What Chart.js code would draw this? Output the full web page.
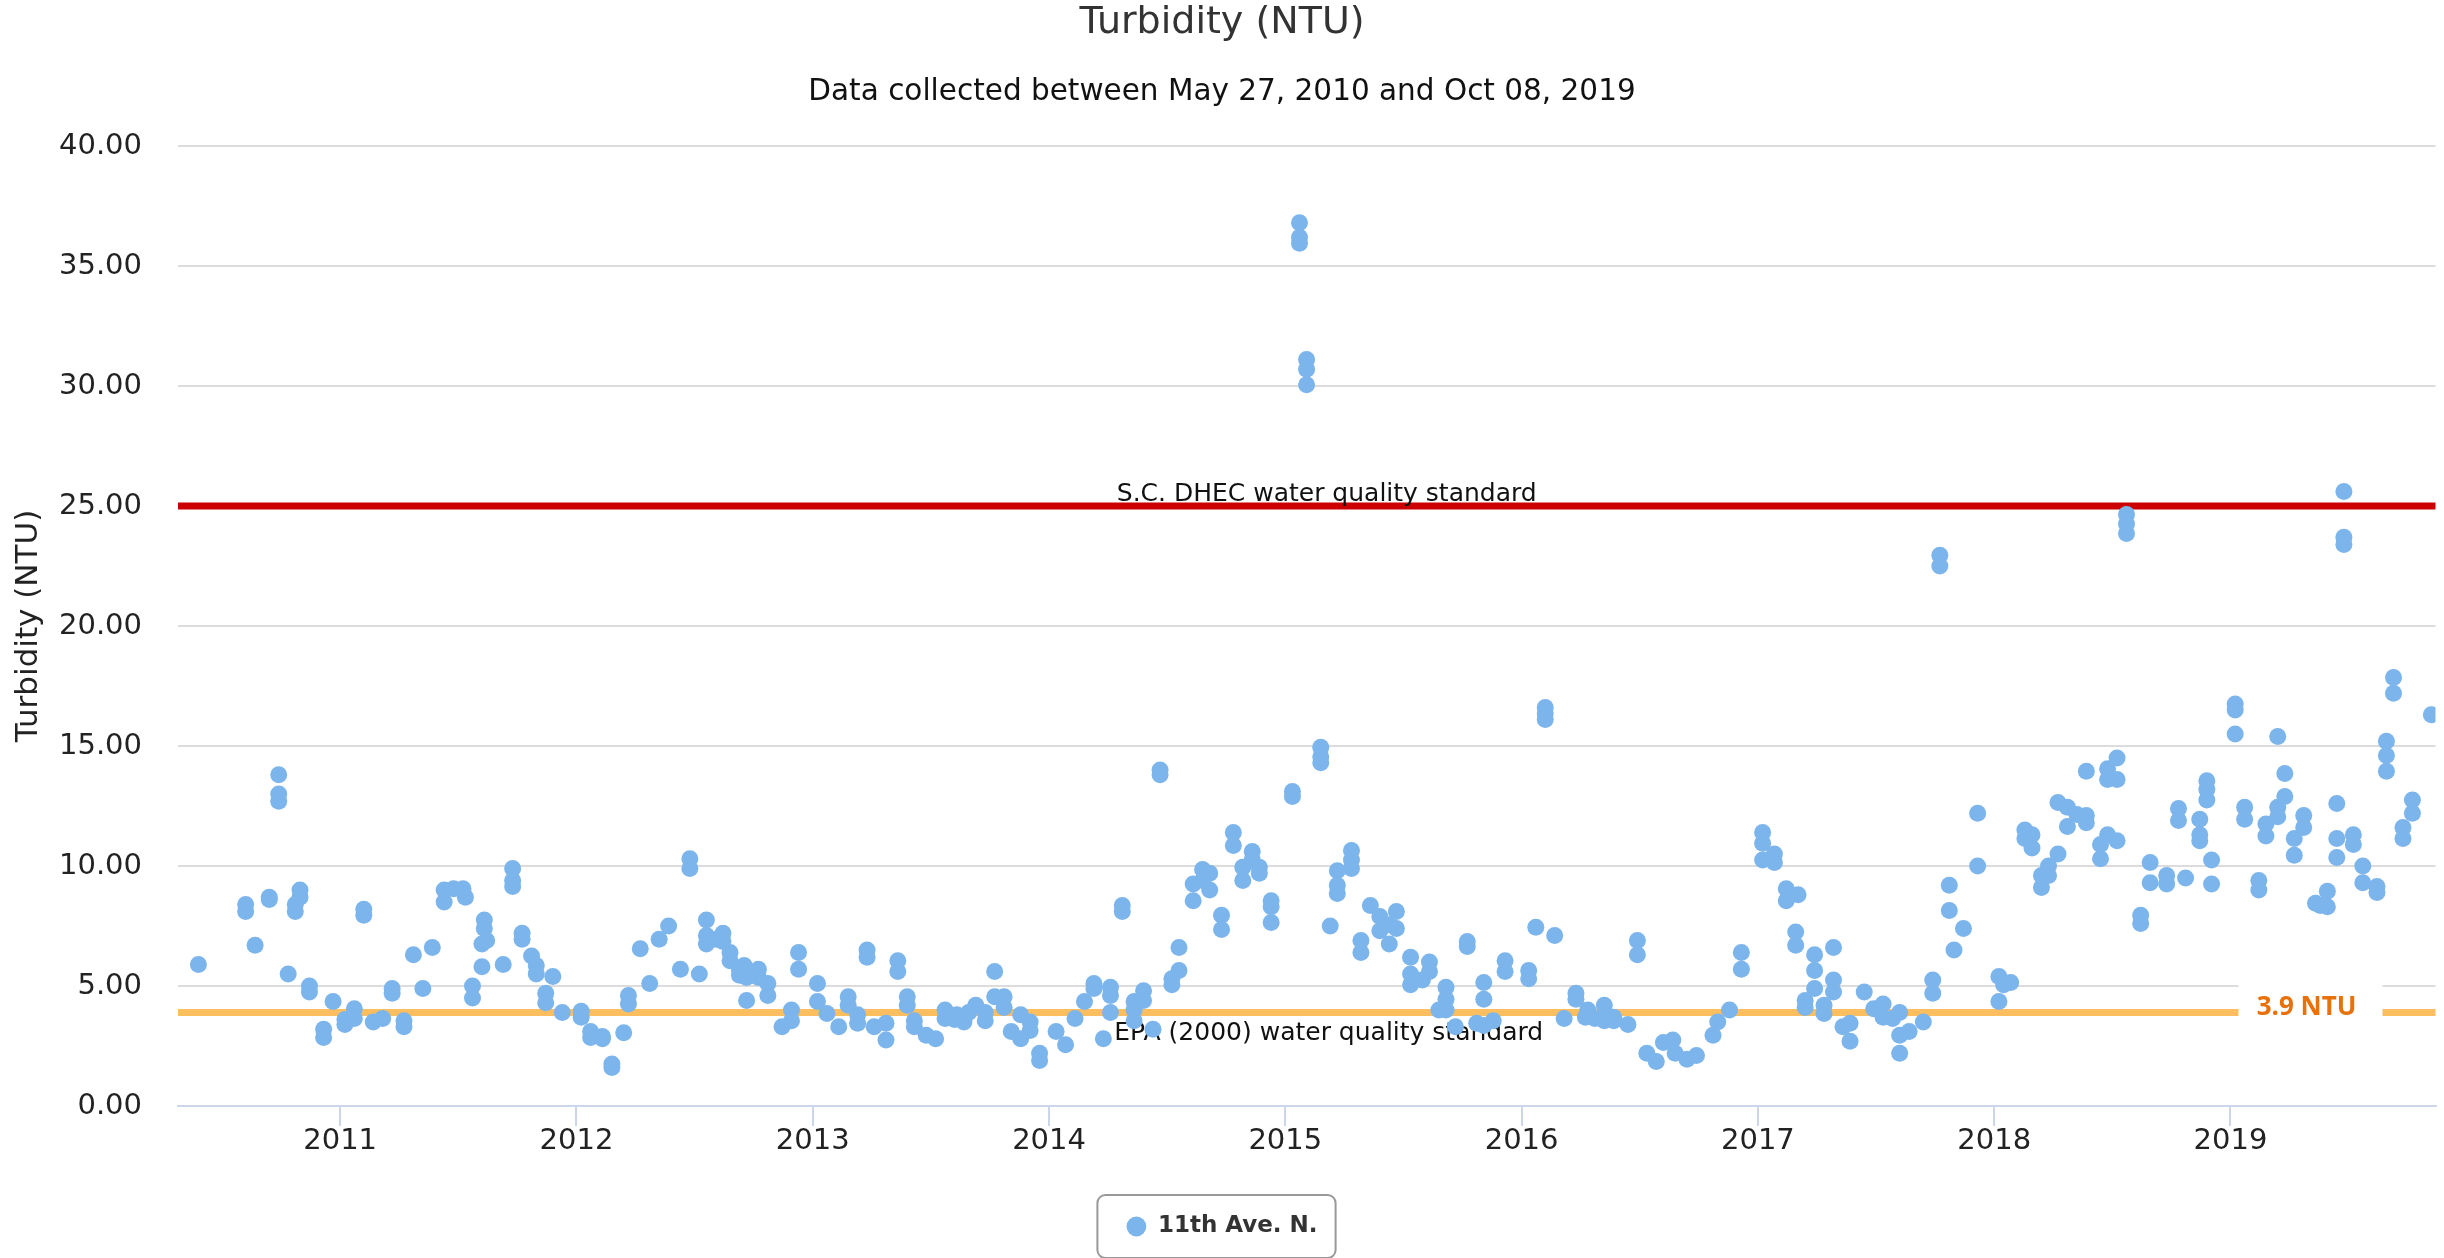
<!DOCTYPE html>
<html>
<head>
<meta charset="utf-8">
<title>Turbidity (NTU)</title>
<script src="https://cdn.jsdelivr.net/npm/chart.js@4.4.1/dist/chart.umd.min.js"></script>
<style>
  html, body { margin: 0; padding: 0; background: #fff; }
  #wrap { width: 2444px; height: 1258px; }
</style>
</head>
<body>
<div id="wrap"><canvas id="turbidityChart"></canvas></div>
<script>
const chartTitle = 'Turbidity (NTU)';
const subtitleText = 'Data collected between May 27, 2010 and Oct 08, 2019';
const seriesName = '11th Ave. N.';
const yearTicks = [2011, 2012, 2013, 2014, 2015, 2016, 2017, 2018, 2019];

// standards drawn as horizontal lines
const dhecLimit = 25;
const epaLimit = 3.9;
const dhecLabel = 'S.C. DHEC water quality standard';
const epaLabel = 'EPA (2000) water quality standard';
const epaValueLabel = '3.9 NTU';

// sample dates as decimal years
const sampleYear = [
  // 2010
  2010.40, 2010.60, 2010.60, 2010.64, 2010.70, 2010.70, 2010.74, 2010.74, 2010.74, 2010.78,
  2010.81, 2010.81, 2010.83, 2010.83, 2010.87, 2010.87, 2010.93, 2010.93, 2010.97,
  // 2011
  2011.02, 2011.02, 2011.06, 2011.06, 2011.10, 2011.10, 2011.14, 2011.18, 2011.22, 2011.22,
  2011.27, 2011.27, 2011.31, 2011.35, 2011.39, 2011.44, 2011.44, 2011.48, 2011.52, 2011.53,
  2011.56, 2011.56, 2011.60, 2011.60, 2011.61, 2011.61, 2011.62, 2011.69, 2011.73, 2011.73,
  2011.73, 2011.77, 2011.77, 2011.81, 2011.83, 2011.83, 2011.87, 2011.87, 2011.90, 2011.94,
  // 2012
  2012.02, 2012.02, 2012.06, 2012.06, 2012.11, 2012.11, 2012.15, 2012.15, 2012.20, 2012.22,
  2012.22, 2012.27, 2012.31, 2012.35, 2012.39, 2012.44, 2012.48, 2012.48, 2012.52, 2012.55,
  2012.55, 2012.55, 2012.59, 2012.62, 2012.62, 2012.65, 2012.65, 2012.69, 2012.69, 2012.71,
  2012.72, 2012.72, 2012.77, 2012.77, 2012.81, 2012.81, 2012.87, 2012.91, 2012.91, 2012.94,
  2012.94,
  // 2013
  2013.02, 2013.02, 2013.06, 2013.11, 2013.15, 2013.15, 2013.19, 2013.19, 2013.23, 2013.23,
  2013.26, 2013.31, 2013.31, 2013.36, 2013.36, 2013.40, 2013.40, 2013.43, 2013.43, 2013.48,
  2013.52, 2013.56, 2013.56, 2013.60, 2013.61, 2013.64, 2013.66, 2013.69, 2013.73, 2013.73,
  2013.77, 2013.77, 2013.81, 2013.81, 2013.84, 2013.88, 2013.88, 2013.92, 2013.92, 2013.96,
  2013.96,
  // 2014
  2014.03, 2014.07, 2014.11, 2014.15, 2014.19, 2014.19, 2014.23, 2014.26, 2014.26, 2014.26,
  2014.31, 2014.31, 2014.36, 2014.36, 2014.36, 2014.40, 2014.40, 2014.44, 2014.47, 2014.47,
  2014.52, 2014.52, 2014.55, 2014.55, 2014.61, 2014.61, 2014.65, 2014.65, 2014.68, 2014.68,
  2014.73, 2014.73, 2014.78, 2014.78, 2014.82, 2014.82, 2014.86, 2014.86, 2014.89, 2014.89,
  2014.94, 2014.94, 2014.94,
  // 2015
  2015.03, 2015.03, 2015.06, 2015.06, 2015.06, 2015.09, 2015.09, 2015.09, 2015.15, 2015.15,
  2015.15, 2015.19, 2015.22, 2015.22, 2015.22, 2015.28, 2015.28, 2015.28, 2015.32, 2015.32,
  2015.36, 2015.40, 2015.40, 2015.44, 2015.44, 2015.47, 2015.47, 2015.53, 2015.53, 2015.53,
  2015.58, 2015.61, 2015.61, 2015.65, 2015.68, 2015.68, 2015.68, 2015.72, 2015.77, 2015.77,
  2015.81, 2015.84, 2015.84, 2015.84, 2015.88, 2015.93, 2015.93,
  // 2016
  2016.03, 2016.03, 2016.06, 2016.10, 2016.10, 2016.10, 2016.14, 2016.18, 2016.23, 2016.23,
  2016.27, 2016.28, 2016.31, 2016.35, 2016.35, 2016.39, 2016.39, 2016.45, 2016.49, 2016.49,
  2016.53, 2016.57, 2016.60, 2016.64, 2016.65, 2016.70, 2016.74, 2016.81, 2016.83, 2016.88,
  2016.93, 2016.93,
  // 2017
  2017.02, 2017.02, 2017.02, 2017.07, 2017.07, 2017.12, 2017.12, 2017.17, 2017.16, 2017.16,
  2017.20, 2017.20, 2017.24, 2017.24, 2017.24, 2017.28, 2017.28, 2017.32, 2017.32, 2017.32,
  2017.36, 2017.39, 2017.39, 2017.45, 2017.49, 2017.53, 2017.53, 2017.57, 2017.60, 2017.60,
  2017.60, 2017.64, 2017.70, 2017.74, 2017.74, 2017.77, 2017.77, 2017.81, 2017.81, 2017.83,
  2017.87, 2017.93, 2017.93,
  // 2018
  2018.02, 2018.02, 2018.04, 2018.07, 2018.13, 2018.13, 2018.16, 2018.16, 2018.20, 2018.20,
  2018.23, 2018.23, 2018.27, 2018.27, 2018.31, 2018.31, 2018.35, 2018.39, 2018.39, 2018.39,
  2018.45, 2018.45, 2018.48, 2018.48, 2018.48, 2018.52, 2018.52, 2018.52, 2018.56, 2018.56,
  2018.56, 2018.62, 2018.62, 2018.66, 2018.66, 2018.73, 2018.73, 2018.78, 2018.78, 2018.81,
  2018.87, 2018.87, 2018.87, 2018.90, 2018.90, 2018.90, 2018.92, 2018.92,
  // 2019
  2019.02, 2019.02, 2019.02, 2019.06, 2019.06, 2019.12, 2019.12, 2019.15, 2019.15, 2019.20,
  2019.20, 2019.20, 2019.23, 2019.23, 2019.27, 2019.27, 2019.31, 2019.31, 2019.36, 2019.38,
  2019.41, 2019.41, 2019.45, 2019.45, 2019.45, 2019.48, 2019.48, 2019.48, 2019.52, 2019.52,
  2019.56, 2019.56, 2019.62, 2019.62, 2019.66, 2019.66, 2019.66, 2019.69, 2019.69, 2019.73,
  2019.73, 2019.77, 2019.77, 2019.85
];

// turbidity in NTU, same order as sampleYear
const turbidityNtu = [
  // 2010
  5.9, 8.4, 8.1, 6.7, 8.7, 8.6, 13.8, 13.0, 12.7, 5.5,
  8.4, 8.1, 9.0, 8.7, 5.0, 4.75, 3.2, 2.85, 4.35,
  // 2011
  3.6, 3.4, 4.05, 3.65, 8.2, 7.95, 3.5, 3.65, 4.9, 4.7,
  3.55, 3.3, 6.3, 4.9, 6.6, 9.0, 8.5, 9.05, 9.05, 8.7,
  5.0, 4.5, 6.75, 5.8, 7.75, 7.4, 6.9, 5.9, 9.9, 9.4,
  9.15, 7.2, 6.95, 6.25, 5.85, 5.5, 4.7, 4.3, 5.4, 3.9,
  // 2012
  3.95, 3.7, 3.1, 2.85, 2.9, 2.8, 1.75, 1.6, 3.05, 4.6,
  4.25, 6.55, 5.1, 6.95, 7.5, 5.7, 10.3, 9.9, 5.5, 7.75,
  7.1, 6.75, 6.95, 7.2, 6.85, 6.4, 6.05, 5.65, 5.45, 5.85,
  5.35, 4.4, 5.7, 5.35, 5.1, 4.6, 3.3, 4.0, 3.55, 6.4,
  5.7,
  // 2013
  5.1, 4.35, 3.85, 3.3, 4.55, 4.2, 3.8, 3.45, 6.5, 6.2,
  3.3, 3.45, 2.75, 6.05, 5.6, 4.55, 4.2, 3.55, 3.3, 2.95,
  2.8, 4.0, 3.65, 3.6, 3.8, 3.5, 3.9, 4.2, 3.9, 3.55,
  5.6, 4.55, 4.55, 4.1, 3.1, 3.8, 2.8, 3.5, 3.15, 2.2,
  1.9,
  // 2014
  3.1, 2.55, 3.65, 4.35, 5.1, 4.9, 2.8, 4.95, 4.6, 3.9,
  8.35, 8.1, 4.35, 4.0, 3.55, 4.8, 4.4, 3.2, 14.0, 13.8,
  5.3, 5.05, 6.6, 5.65, 9.25, 8.55, 9.85, 9.4, 9.7, 9.0,
  7.95, 7.35, 11.4, 10.85, 9.95, 9.4, 10.6, 10.25, 9.95, 9.7,
  8.55, 8.3, 7.65,
  // 2015
  13.1, 12.9, 36.8, 36.2, 35.95, 31.1, 30.7, 30.05, 14.95, 14.55,
  14.3, 7.5, 9.8, 9.2, 8.85, 10.65, 10.25, 9.9, 6.9, 6.4,
  8.35, 7.9, 7.3, 7.55, 6.75, 8.1, 7.4, 6.2, 5.5, 5.05,
  5.25, 6.0, 5.6, 4.0, 4.95, 4.45, 4.0, 3.3, 6.85, 6.65,
  3.45, 3.35, 5.15, 4.45, 3.55, 6.05, 5.6,
  // 2016
  5.65, 5.3, 7.45, 16.6, 16.35, 16.1, 7.1, 3.65, 4.7, 4.45,
  3.7, 4.0, 3.65, 4.2, 3.55, 3.7, 3.55, 3.4, 6.9, 6.3,
  2.2, 1.85, 2.65, 2.75, 2.2, 1.95, 2.1, 2.95, 3.5, 4.0,
  6.4, 5.7,
  // 2017
  11.4, 10.95, 10.25, 10.5, 10.15, 9.05, 8.55, 8.8, 7.25, 6.7,
  4.4, 4.1, 6.3, 5.65, 4.9, 4.2, 3.85, 6.6, 5.25, 4.75,
  3.3, 3.45, 2.7, 4.75, 4.05, 4.25, 3.7, 3.65, 3.9, 2.95,
  2.2, 3.1, 3.5, 5.25, 4.7, 22.95, 22.5, 9.2, 8.15, 6.5,
  7.4, 12.2, 10.0,
  // 2018
  5.4, 4.35, 5.05, 5.15, 11.5, 11.15, 11.3, 10.75, 9.6, 9.1,
  10.0, 9.6, 10.5, 12.65, 12.45, 11.65, 12.15, 12.1, 11.8, 13.95,
  10.9, 10.3, 11.3, 14.05, 13.6, 11.05, 14.5, 13.6, 24.65, 24.25,
  23.85, 7.95, 7.6, 10.15, 9.3, 9.6, 9.25, 12.4, 11.9, 9.5,
  11.95, 11.3, 11.05, 13.55, 13.2, 12.75, 10.25, 9.25,
  // 2019
  16.75, 16.5, 15.5, 12.45, 11.95, 9.4, 9.0, 11.75, 11.25, 15.4,
  12.45, 12.05, 13.85, 12.9, 11.15, 10.45, 12.1, 11.6, 8.45, 8.35,
  8.95, 8.3, 12.6, 11.15, 10.35, 25.6, 23.7, 23.4, 11.3, 10.9,
  10.0, 9.3, 9.15, 8.9, 15.2, 14.6, 13.95, 17.85, 17.2, 11.6,
  11.15, 12.75, 12.2, 16.3
];

Chart.defaults.font.family = "'DejaVu Sans', sans-serif";

// standard lines + their labels (under the points), value tag on top
const plotLinesPlugin = {
  id: 'plotLines',
  beforeDatasetsDraw(chart) {
    const { ctx, chartArea: { left, right }, scales: { y } } = chart;
    const yRed = y.getPixelForValue(dhecLimit);
    const yOrange = y.getPixelForValue(epaLimit);
    ctx.save();
    ctx.lineWidth = 7;
    ctx.strokeStyle = '#fdbe60';
    ctx.beginPath();
    ctx.moveTo(left, yOrange);
    ctx.lineTo(right, yOrange);
    ctx.stroke();
    ctx.strokeStyle = '#cc0000';
    ctx.beginPath();
    ctx.moveTo(left, yRed);
    ctx.lineTo(right, yRed);
    ctx.stroke();

    const mid = (left + right) / 2 + 20;
    ctx.font = "25px 'DejaVu Sans'";
    ctx.fillStyle = '#111';
    ctx.textAlign = 'center';
    ctx.textBaseline = 'alphabetic';
    ctx.fillText(dhecLabel, mid, yRed - 5);
    ctx.fillText(epaLabel, mid + 2, yOrange + 28);
    ctx.restore();
  },
  afterDatasetsDraw(chart) {
    const { ctx, chartArea: { right }, scales: { y } } = chart;
    const yOrange = y.getPixelForValue(epaLimit);
    ctx.save();
    ctx.fillStyle = '#ffffff';
    ctx.fillRect(right - 197, yOrange - 36, 144, 62);
    ctx.font = "bold 26px 'Open Sans'";
    ctx.fillStyle = '#e8710c';
    ctx.textAlign = 'center';
    ctx.textBaseline = 'middle';
    ctx.fillText(epaValueLabel, right - 129, yOrange - 5);
    ctx.restore();
  }
};

// rounded frame round the legend item
const legendFramePlugin = {
  id: 'legendFrame',
  afterDraw(chart) {
    const hb = chart.legend && chart.legend.legendHitBoxes[0];
    if (!hb) return;
    const { ctx } = chart;
    ctx.save();
    ctx.strokeStyle = '#999999';
    ctx.lineWidth = 2;
    ctx.beginPath();
    ctx.roundRect(hb.left - 29, hb.top - 20, hb.width + 47, hb.height + 40, 8);
    ctx.stroke();
    ctx.restore();
  }
};

new Chart(document.getElementById('turbidityChart'), {
  type: 'scatter',
  data: {
    datasets: [{
      label: seriesName,
      data: sampleYear.map((x, i) => ({ x, y: turbidityNtu[i] })),
      backgroundColor: '#7cb5ec',
      borderColor: '#7cb5ec',
      borderWidth: 0,
      pointRadius: 8.5,
      pointHoverRadius: 8.5
    }]
  },
  options: {
    responsive: true,
    maintainAspectRatio: false,
    animation: false,
    layout: { padding: { left: 0, right: 0, top: 0, bottom: 10 } },
    plugins: {
      title: {
        display: true,
        text: chartTitle,
        color: '#333',
        font: { size: 38, weight: 'normal' },
        padding: { top: 0, bottom: 0 }
      },
      subtitle: {
        display: true,
        text: subtitleText,
        color: '#111',
        font: { size: 29.5, weight: 'normal' },
        padding: { top: 29, bottom: 36 }
      },
      legend: {
        position: 'bottom',
        labels: {
          usePointStyle: true,
          pointStyle: 'circle',
          boxWidth: 20,
          boxHeight: 14,
          padding: 21,
          color: '#333',
          font: { size: 23, weight: 'bold' }
        }
      },
      tooltip: { enabled: false }
    },
    scales: {
      x: {
        type: 'linear',
        min: 2010.3137,
        max: 2019.8677,
        afterBuildTicks: axis => { axis.ticks = yearTicks.map(v => ({ value: v })); },
        ticks: {
          callback: v => String(v),
          color: '#222',
          font: { size: 29 },
          padding: -2,
          maxRotation: 0,
          autoSkip: false
        },
        grid: { drawOnChartArea: false, drawTicks: true, tickLength: 20, color: '#ccd6eb', lineWidth: 2 },
        border: { display: true, color: '#ccd6eb', width: 2 },
        afterFit: scale => { scale.height = 88; }
      },
      y: {
        min: 0,
        max: 40,
        ticks: {
          stepSize: 5,
          callback: v => v.toFixed(2),
          color: '#222',
          font: { size: 29 },
          padding: 36
        },
        grid: { color: '#dcdcdc', lineWidth: 2, drawTicks: false },
        border: { display: false },
        title: {
          display: true,
          text: chartTitle,
          color: '#222',
          font: { size: 31 },
          padding: { top: 10, bottom: 0 }
        },
        afterFit: scale => { scale.width = 178; }
      }
    }
  },
  plugins: [plotLinesPlugin, legendFramePlugin]
});
</script>
</body>
</html>
